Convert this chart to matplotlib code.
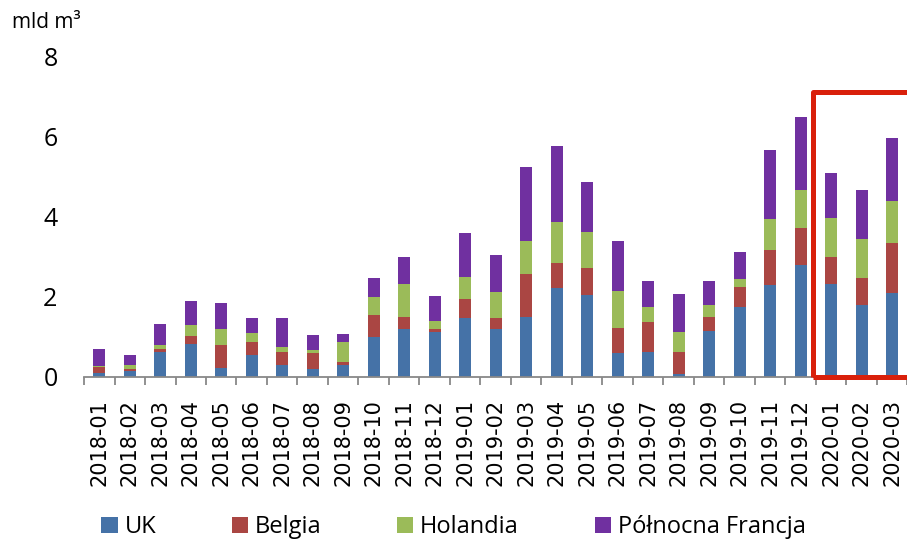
import numpy as np
import matplotlib
matplotlib.use('Agg')
import matplotlib.pyplot as plt
from matplotlib.patches import Rectangle, Patch

months = ['2018-01', '2018-02', '2018-03', '2018-04', '2018-05', '2018-06',
          '2018-07', '2018-08', '2018-09', '2018-10', '2018-11', '2018-12',
          '2019-01', '2019-02', '2019-03', '2019-04', '2019-05', '2019-06',
          '2019-07', '2019-08', '2019-09', '2019-10', '2019-11', '2019-12',
          '2020-01', '2020-02', '2020-03']

# mld m3
uk = [0.09, 0.15, 0.62, 0.83, 0.23, 0.55, 0.30, 0.20, 0.30, 1.00, 1.20, 1.12,
      1.47, 1.19, 1.51, 2.22, 2.06, 0.59, 0.63, 0.07, 1.14, 1.74, 2.29, 2.79,
      2.33, 1.80, 2.09]
belgia = [0.17, 0.06, 0.07, 0.20, 0.56, 0.33, 0.33, 0.39, 0.08, 0.54, 0.30, 0.07,
          0.49, 0.29, 1.07, 0.63, 0.67, 0.63, 0.75, 0.56, 0.37, 0.52, 0.88, 0.94,
          0.68, 0.68, 1.27]
holandia = [0.01, 0.10, 0.11, 0.28, 0.40, 0.23, 0.13, 0.08, 0.50, 0.46, 0.82, 0.22,
            0.54, 0.64, 0.82, 1.03, 0.90, 0.92, 0.37, 0.50, 0.28, 0.19, 0.79, 0.95,
            0.97, 0.97, 1.04]
francja = [0.43, 0.24, 0.53, 0.60, 0.66, 0.37, 0.72, 0.38, 0.20, 0.47, 0.68, 0.62,
           1.10, 0.92, 1.85, 1.90, 1.25, 1.25, 0.64, 0.95, 0.61, 0.68, 1.72, 1.83,
           1.13, 1.22, 1.57]

series = [uk, belgia, holandia, francja]
names = ['UK', 'Belgia', 'Holandia', 'Północna Francja']
colors = ['#4572A7', '#AA4643', '#9BBB59', '#7030A0']

fig = plt.figure(figsize=(9.07, 5.41), dpi=100)
ax = fig.add_axes([84 / 907, 1 - 377 / 541, 823.5 / 907, 320 / 541])

x = np.arange(len(months))
bottom = np.zeros(len(months))
for vals, col in zip(series, colors):
    ax.bar(x, vals, 0.4, bottom=bottom, color=col, edgecolor='none', zorder=2)
    bottom += np.array(vals)

ax.set_xlim(-0.5, len(months) - 0.5)
ax.set_ylim(0, 8)
ax.set_yticks([0, 2, 4, 6, 8])
ax.tick_params(axis='y', length=0, pad=19, labelsize=18)
for lab in ax.get_yticklabels():
    lab.set_family('Open Sans')

ax.set_xticks(x)
ax.set_xticklabels(months, rotation=90, fontsize=15, family='DejaVu Sans')
ax.set_xticks(np.arange(len(months) + 1) - 0.5, minor=True)
ax.tick_params(axis='x', which='major', length=0, pad=16)
ax.tick_params(axis='x', which='minor', length=6, width=1.3, color='#888888')

for s in ['top', 'right', 'left']:
    ax.spines[s].set_visible(False)
ax.spines['bottom'].set_color('#888888')
ax.spines['bottom'].set_linewidth(1.3)

# red frame around 2020
frame = Rectangle((23.41, -0.01), 4.0, 7.135, fill=False, edgecolor='#D9200B',
                  linewidth=3.6, joinstyle='round', clip_on=False, zorder=5)
ax.add_patch(frame)

fig.text(12 / 907, 1 - 22 / 541, 'mld m³', fontsize=15, family='Open Sans',
         va='center', ha='left')

handles = [Patch(facecolor=c, edgecolor='none') for c in colors]
fig.legend(handles, names, loc='center', bbox_to_anchor=(0.5, 1 - 527 / 541),
           ncol=4, frameon=False, prop={'family': 'Open Sans', 'size': 17},
           handlelength=0.68, handleheight=0.68, handletextpad=0.3,
           columnspacing=3.2, borderpad=0)

fig.savefig('out.png', dpi=100)
